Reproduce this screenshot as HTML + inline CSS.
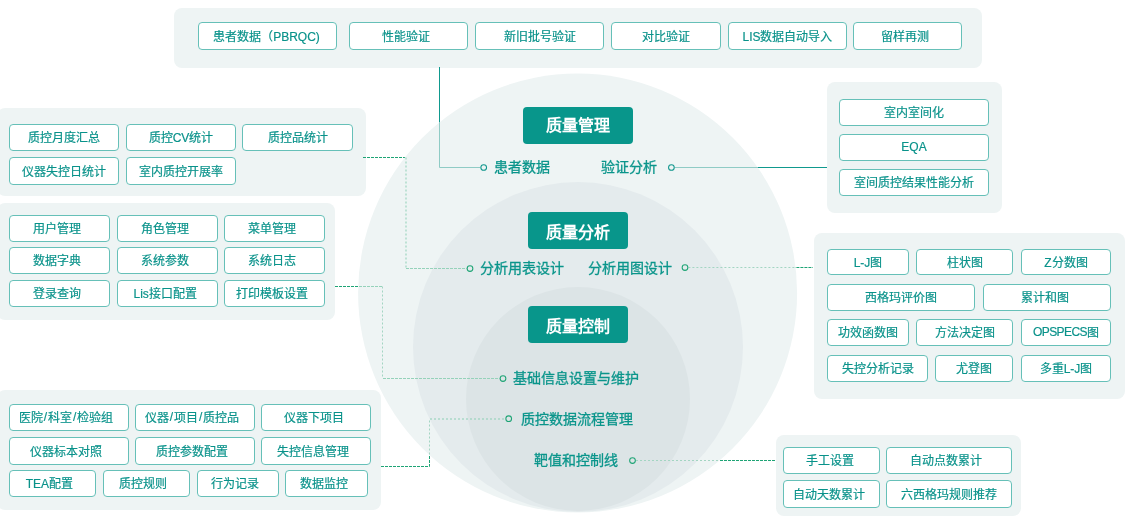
<!DOCTYPE html>
<html lang="zh-CN"><head><meta charset="utf-8"><style>
*{margin:0;padding:0;box-sizing:border-box}
html,body{width:1125px;height:530px;overflow:hidden;background:#fff;font-family:"Liberation Sans",sans-serif}
.p{position:absolute;background:#eef4f4;border-radius:8px}
.b{position:absolute;background:#fff;border:1px solid #66c0b8;border-radius:4px;color:#09928a;font-size:12px;-webkit-text-stroke:0.18px #09928a;text-align:center;white-space:nowrap;display:flex;align-items:center;justify-content:center;padding-bottom:2px}
.h{position:absolute;background:#08968b;border-radius:4px;color:#fff;font-size:16px;font-weight:bold;display:flex;align-items:center;justify-content:center;white-space:nowrap;padding-top:0px}
.l{position:absolute;color:#0a958b;font-size:14px;-webkit-text-stroke:0.3px #0a958b;white-space:nowrap;line-height:20px}
svg{position:absolute;left:0;top:0}
.l,.b,.h{will-change:transform}
</style></head><body>

<div class="p" style="left:174px;top:8px;width:808px;height:60px"></div>
<div class="p" style="left:-3px;top:108px;width:369px;height:88px"></div>
<div class="p" style="left:-3px;top:203px;width:338px;height:117px"></div>
<div class="p" style="left:-3px;top:390px;width:384px;height:120px"></div>
<div class="p" style="left:827px;top:82px;width:175px;height:131px"></div>
<div class="p" style="left:814px;top:233px;width:311px;height:166px"></div>
<div class="p" style="left:776px;top:435px;width:245px;height:81px"></div>
<svg width="1125" height="530"><defs><clipPath id="oc"><circle cx="577.6" cy="293" r="219.5"/></clipPath></defs><path d="M439.5,67 L439.5,167.5 L480.3,167.5" fill="none" stroke="#0f998e" stroke-width="1"/><path d="M674.8,167.5 L827,167.5" fill="none" stroke="#0f998e" stroke-width="1"/><path d="M363,157.5 L405.5,157.5 L405.5,268.5 L466.6,268.5" fill="none" stroke="#1ea475" stroke-width="1" stroke-dasharray="3 1"/><path d="M688.4,267.5 L813,267.5" fill="none" stroke="#1ea475" stroke-width="1" stroke-dasharray="3 1"/><path d="M335,286.5 L382.5,286.5 L382.5,378.5 L499.6,378.5" fill="none" stroke="#1ea475" stroke-width="1" stroke-dasharray="3 1"/><path d="M381,466.5 L429.5,466.5 L429.5,418.5 L505,418.5" fill="none" stroke="#1ea475" stroke-width="1" stroke-dasharray="3 1"/><path d="M636,460.5 L775,460.5" fill="none" stroke="#1ea475" stroke-width="1" stroke-dasharray="3 1"/><circle cx="577.6" cy="293" r="219.5" fill="#eef4f4"/><circle cx="578" cy="347" r="165" fill="#e4ebed"/><circle cx="578" cy="399" r="112" fill="#dce4e6"/><g clip-path="url(#oc)"><path d="M439.5,67 L439.5,167.5 L480.3,167.5" fill="none" stroke="#8fcbc5" stroke-width="1"/><path d="M674.8,167.5 L827,167.5" fill="none" stroke="#8fcbc5" stroke-width="1"/><path d="M406,157.5 L406,268" fill="none" stroke="#8ccfb5" stroke-width="1" stroke-dasharray="2 2"/><path d="M406,268.5 L466.6,268.5" fill="none" stroke="#95d2ba" stroke-width="1" stroke-dasharray="3 1"/><path d="M688.4,267.5 L813,267.5" fill="none" stroke="#a3d5c2" stroke-width="1" stroke-dasharray="2 2"/><path d="M335,286.5 L382.5,286.5" fill="none" stroke="#95d2ba" stroke-width="1" stroke-dasharray="3 1"/><path d="M382.5,286.5 L382.5,378" fill="none" stroke="#a3d5c2" stroke-width="1" stroke-dasharray="2 2"/><path d="M383,378.5 L499.6,378.5" fill="none" stroke="#95d2ba" stroke-width="1" stroke-dasharray="3 1"/><path d="M429.5,466.5 L429.5,419" fill="none" stroke="#a3d5c2" stroke-width="1" stroke-dasharray="2 2"/><path d="M430,419 L505,419" fill="none" stroke="#8ccfb5" stroke-width="1" stroke-dasharray="2 2"/><path d="M636,460.5 L775,460.5" fill="none" stroke="#a3d5c2" stroke-width="1" stroke-dasharray="2 2"/></g></svg>
<div class="b" style="left:198px;top:22px;width:139px;height:28px;padding-right:2.0px">患者数据（PBRQC)</div>
<div class="b" style="left:349px;top:22px;width:119px;height:28px;padding-right:5.0px">性能验证</div>
<div class="b" style="left:475px;top:22px;width:129px;height:28px">新旧批号验证</div>
<div class="b" style="left:611px;top:22px;width:110px;height:28px">对比验证</div>
<div class="b" style="left:728px;top:22px;width:119px;height:28px">LIS数据自动导入</div>
<div class="b" style="left:853px;top:22px;width:109px;height:28px;padding-right:5.0px">留样再测</div>
<div class="b" style="left:9px;top:124px;width:110px;height:27px">质控月度汇总</div>
<div class="b" style="left:126px;top:124px;width:110px;height:27px">质控CV统计</div>
<div class="b" style="left:242px;top:124px;width:111px;height:27px">质控品统计</div>
<div class="b" style="left:9px;top:157px;width:110px;height:28px">仪器失控日统计</div>
<div class="b" style="left:126px;top:157px;width:110px;height:28px">室内质控开展率</div>
<div class="b" style="left:9px;top:215px;width:101px;height:27px;padding-right:4.6px">用户管理</div>
<div class="b" style="left:117px;top:215px;width:101px;height:27px;padding-right:4.6px">角色管理</div>
<div class="b" style="left:224px;top:215px;width:101px;height:27px;padding-right:5.0px">菜单管理</div>
<div class="b" style="left:9px;top:247px;width:101px;height:27px;padding-right:4.6px">数据字典</div>
<div class="b" style="left:117px;top:247px;width:101px;height:27px;padding-right:4.6px">系统参数</div>
<div class="b" style="left:224px;top:247px;width:101px;height:27px;padding-right:5.0px">系统日志</div>
<div class="b" style="left:9px;top:280px;width:101px;height:27px;padding-right:4.6px">登录查询</div>
<div class="b" style="left:117px;top:280px;width:101px;height:27px;padding-right:4.6px">Lis接口配置</div>
<div class="b" style="left:224px;top:280px;width:101px;height:27px;padding-right:5.8px">打印模板设置</div>
<div class="b" style="left:9px;top:404px;width:120px;height:27px;padding-right:6.0px">医院<span style="margin:0 1px">/</span>科室<span style="margin:0 1px">/</span>检验组</div>
<div class="b" style="left:135px;top:404px;width:120px;height:27px;padding-right:6.0px">仪器<span style="margin:0 1px">/</span>项目<span style="margin:0 1px">/</span>质控品</div>
<div class="b" style="left:261px;top:404px;width:110px;height:27px;padding-right:5.0px">仪器下项目</div>
<div class="b" style="left:9px;top:437px;width:120px;height:28px;padding-right:6.4px">仪器标本对照</div>
<div class="b" style="left:135px;top:437px;width:120px;height:28px;padding-right:6.0px">质控参数配置</div>
<div class="b" style="left:261px;top:437px;width:110px;height:28px;padding-right:5.6px">失控信息管理</div>
<div class="b" style="left:9px;top:470px;width:87px;height:27px;padding-right:6.2px">TEA配置</div>
<div class="b" style="left:103px;top:470px;width:87px;height:27px;padding-right:6.6px">质控规则</div>
<div class="b" style="left:197px;top:470px;width:82px;height:27px;padding-right:5.2px">行为记录</div>
<div class="b" style="left:285px;top:470px;width:83px;height:27px;padding-right:4.2px">数据监控</div>
<div class="b" style="left:839px;top:99px;width:150px;height:27px">室内室间化</div>
<div class="b" style="left:839px;top:134px;width:150px;height:27px">EQA</div>
<div class="b" style="left:839px;top:169px;width:150px;height:27px">室间质控结果性能分析</div>
<div class="b" style="left:827px;top:249px;width:82px;height:26px">L-J图</div>
<div class="b" style="left:916px;top:249px;width:97px;height:26px">柱状图</div>
<div class="b" style="left:1021px;top:249px;width:90px;height:26px">Z分数图</div>
<div class="b" style="left:827px;top:284px;width:148px;height:27px">西格玛评价图</div>
<div class="b" style="left:983px;top:284px;width:128px;height:27px;padding-right:4.0px">累计和图</div>
<div class="b" style="left:827px;top:319px;width:82px;height:27px">功效函数图</div>
<div class="b" style="left:916px;top:319px;width:97px;height:27px">方法决定图</div>
<div class="b" style="left:1021px;top:319px;width:90px;height:27px"><span style="letter-spacing:-0.6px">OPSPECS</span>图</div>
<div class="b" style="left:827px;top:355px;width:101px;height:27px">失控分析记录</div>
<div class="b" style="left:935px;top:355px;width:78px;height:27px">尤登图</div>
<div class="b" style="left:1021px;top:355px;width:90px;height:27px">多重L-J图</div>
<div class="b" style="left:783px;top:447px;width:97px;height:27px;padding-right:2.8px">手工设置</div>
<div class="b" style="left:886px;top:447px;width:126px;height:27px;padding-right:5.2px">自动点数累计</div>
<div class="b" style="left:783px;top:480px;width:97px;height:28px;padding-right:5.2px">自动天数累计</div>
<div class="b" style="left:886px;top:480px;width:126px;height:28px;padding-right:1.0px">六西格玛规则推荐</div>
<div class="h" style="left:523px;top:107px;width:110px;height:37px"><span style="position:relative;top:-2px">质量管理</span></div>
<div class="h" style="left:528px;top:212px;width:100px;height:37px">质量分析</div>
<div class="h" style="left:528px;top:306px;width:100px;height:37px">质量控制</div>
<div class="l" style="left:494px;top:157px">患者数据</div>
<div class="l" style="left:601px;top:157px">验证分析</div>
<div class="l" style="left:479.5px;top:258px">分析用表设计</div>
<div class="l" style="left:588px;top:258px">分析用图设计</div>
<div class="l" style="left:513px;top:368px">基础信息设置与维护</div>
<div class="l" style="left:521px;top:409px">质控数据流程管理</div>
<div class="l" style="left:533.8px;top:450px">靶值和控制线</div>
<svg width="1125" height="530"><circle cx="483.7" cy="167.5" r="2.85" fill="none" stroke="#0f968c" stroke-width="1.05"/><circle cx="671.4" cy="167.5" r="2.85" fill="none" stroke="#0f968c" stroke-width="1.05"/><circle cx="470" cy="268.5" r="2.85" fill="none" stroke="#1ea475" stroke-width="1.05"/><circle cx="685" cy="267.5" r="2.85" fill="none" stroke="#1ea475" stroke-width="1.05"/><circle cx="503" cy="378.5" r="2.85" fill="none" stroke="#1ea475" stroke-width="1.05"/><circle cx="508.7" cy="418.7" r="2.85" fill="none" stroke="#1ea475" stroke-width="1.05"/><circle cx="632.5" cy="460.5" r="2.85" fill="none" stroke="#1ea475" stroke-width="1.05"/></svg>
</body></html>
